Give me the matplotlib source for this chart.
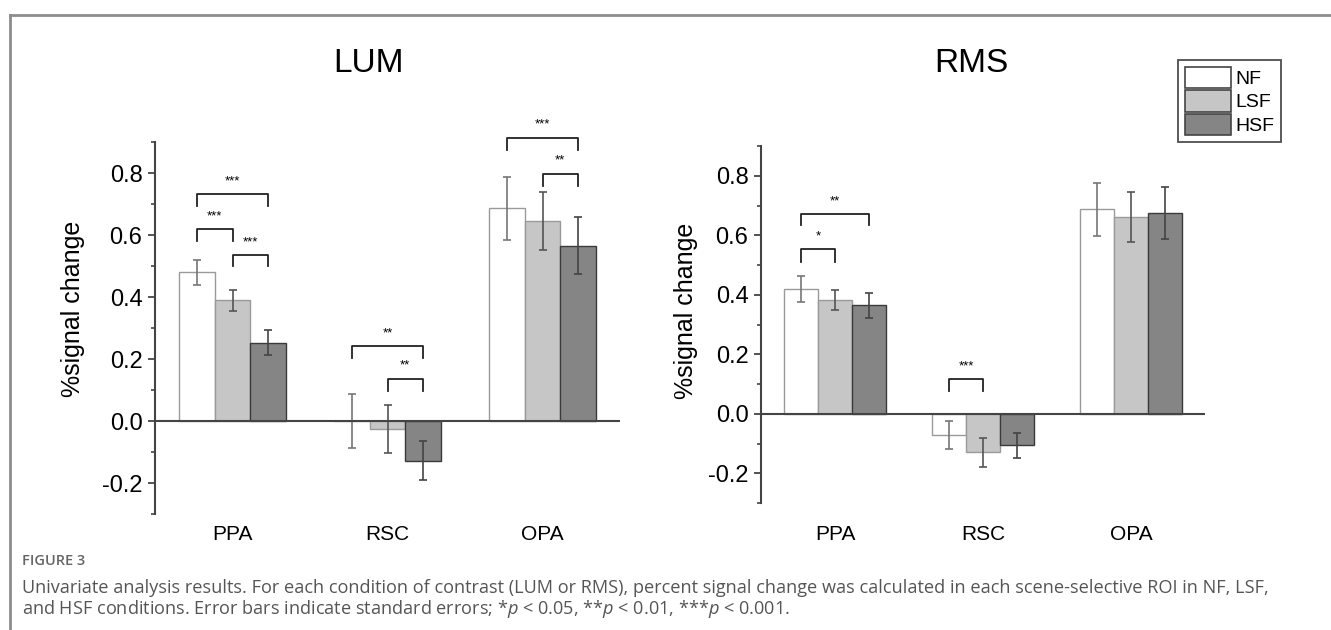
import matplotlib
matplotlib.use("Agg")
import matplotlib.pyplot as plt
from matplotlib.patches import Patch
from matplotlib.lines import Line2D
import numpy as np

plt.rcParams['font.family'] = ['Liberation Sans', 'DejaVu Sans']
plt.rcParams['mathtext.fontset'] = 'custom'
plt.rcParams['mathtext.rm'] = 'Open Sans'
plt.rcParams['mathtext.it'] = 'Open Sans:italic'

rois = ['PPA', 'RSC', 'OPA']
conditions = ['NF', 'LSF', 'HSF']

# LUM panel
lum_nf = [0.48, 0.0, 0.686]
lum_lsf = [0.389, -0.025, 0.646]
lum_hsf = [0.252, -0.128, 0.566]
lum_nf_err = [0.040, 0.088, 0.101]
lum_lsf_err = [0.033, 0.078, 0.093]
lum_hsf_err = [0.040, 0.062, 0.092]

# RMS panel
rms_nf = [0.42, -0.07, 0.687]
rms_lsf = [0.383, -0.13, 0.661]
rms_hsf = [0.364, -0.106, 0.676]
rms_nf_err = [0.044, 0.047, 0.089]
rms_lsf_err = [0.033, 0.049, 0.085]
rms_hsf_err = [0.042, 0.042, 0.087]

# significance brackets: (roi, cond_a, cond_b, top, leg_end, label)
lum_sig = [(0, 0, 2, 0.732, 0.692, '***'),
           (0, 0, 1, 0.619, 0.582, '***'),
           (0, 1, 2, 0.536, 0.499, '***'),
           (1, 0, 2, 0.241, 0.204, '**'),
           (1, 1, 2, 0.137, 0.097, '**'),
           (2, 0, 2, 0.914, 0.874, '***'),
           (2, 1, 2, 0.798, 0.758, '**')]
rms_sig = [(0, 0, 2, 0.671, 0.633, '**'),
           (0, 0, 1, 0.553, 0.511, '*'),
           (1, 0, 1, 0.117, 0.075, '***')]

faces = ['white', '#c6c6c6', '#858585']
edges = ['#9a9a9a', '#9a9a9a', '#3a3a3a']
errc = ['#777777', '#555555', '#444444']
width = 0.23
tickfont = ['Liberation Sans Narrow', 'Liberation Sans', 'DejaVu Sans']
capfont = ['Open Sans', 'DejaVu Sans']

fig = plt.figure(figsize=(13.31, 6.30), dpi=100)


def panel(rect, title, vals, errs, sigs, title_x, xpad, label_xy):
    ax = fig.add_axes(rect)
    x = np.arange(len(rois))
    for i in range(3):
        pos = x + (i - 1) * width
        ax.bar(pos, vals[i], width, color=faces[i], edgecolor=edges[i],
               linewidth=1.0, zorder=2)
        ax.errorbar(pos, vals[i], yerr=errs[i], fmt='none', ecolor=errc[i],
                    elinewidth=1.2, capsize=3, capthick=1.2, zorder=3)
    ax.axhline(0, color='#444444', lw=1.5, zorder=4)
    for roi, a, b, top, leg, lab in sigs:
        xa = roi + (a - 1) * width
        xb = roi + (b - 1) * width
        ax.plot([xa, xa, xb, xb], [leg, top, top, leg], color='#222222',
                lw=1.3, clip_on=False, zorder=5)
        ax.text((xa + xb) / 2, top + 0.022, lab, ha='center', va='bottom',
                fontsize=9.5, clip_on=False)
    ax.set_xlim(-0.5, 2.5)
    ax.set_ylim(-0.3, 0.9)
    for s in ['top', 'right', 'bottom']:
        ax.spines[s].set_visible(False)
    ax.spines['left'].set_color('#444444')
    ax.spines['left'].set_linewidth(1.5)
    ax.set_yticks([-0.2, 0.0, 0.2, 0.4, 0.6, 0.8])
    ax.set_yticks(np.arange(-0.3, 0.95, 0.1), minor=True)
    ax.set_yticklabels(['-0.2', '0.0', '0.2', '0.4', '0.6', '0.8'],
                       family=tickfont, fontsize=17)
    ax.tick_params(axis='y', which='major', length=5, width=1.3,
                   color='#444444', pad=4)
    ax.tick_params(axis='y', which='minor', length=3, width=1.2,
                   color='#444444')
    ax.set_xticks(x)
    ax.set_xticklabels(rois, fontsize=15)
    ax.tick_params(axis='x', length=0, pad=xpad)
    ax.set_ylabel('%signal change', fontsize=18)
    ax.yaxis.set_label_coords(*label_xy)
    fig.text(title_x, 1 - 64 / 630, title, ha='center', va='center',
             fontsize=24)
    return ax


ax1 = panel([155 / 1331, 1 - 514 / 630, 465 / 1331, 372 / 630], 'LUM',
            [lum_nf, lum_lsf, lum_hsf], [lum_nf_err, lum_lsf_err, lum_hsf_err],
            lum_sig, 368 / 1331, 8, (-0.150, 0.551))
ax2 = panel([761 / 1331, 1 - 503 / 630, 444 / 1331, 357 / 630], 'RMS',
            [rms_nf, rms_lsf, rms_hsf], [rms_nf_err, rms_lsf_err, rms_hsf_err],
            rms_sig, 971 / 1331, 16, (-0.143, 0.538))

handles = [Patch(facecolor=faces[i], edgecolor='#444444', linewidth=1.2)
           for i in range(3)]
leg = fig.legend(handles, conditions, loc='upper left',
                 bbox_to_anchor=(1178 / 1331, 1 - 60 / 630),
                 frameon=True, fancybox=False, edgecolor='#222222',
                 prop={'family': tickfont, 'size': 14},
                 handlelength=2.4, handleheight=1.3, handletextpad=0.2,
                 labelspacing=0.12, borderpad=0.35, borderaxespad=0)
leg.get_frame().set_linewidth(1.3)

# page border
fig.add_artist(Line2D([10 / 1331, 1], [1 - 15 / 630] * 2, color='#8c8c8c',
                      lw=2, transform=fig.transFigure))
fig.add_artist(Line2D([10 / 1331] * 2, [0, 1 - 15 / 630], color='#8c8c8c',
                      lw=2, transform=fig.transFigure))

fig.text(22 / 1331, 1 - 561 / 630, 'FIGURE 3', fontsize=10.5, color='#666666',
         family=capfont, weight='semibold', va='center')
fig.text(22 / 1331, 1 - 588 / 630,
         'Univariate analysis results. For each condition of contrast (LUM or RMS), '
         'percent signal change was calculated in each scene-selective ROI in NF, LSF,',
         fontsize=13.1, color='#555555', family=capfont, va='center')
fig.text(22 / 1331, 1 - 609 / 630,
         'and HSF conditions. Error bars indicate standard errors; '
         r'*$\it{p}$ < 0.05, **$\it{p}$ < 0.01, ***$\it{p}$ < 0.001.',
         fontsize=13.1, color='#555555', family=capfont, va='center')

fig.savefig('out.png', dpi=100)
